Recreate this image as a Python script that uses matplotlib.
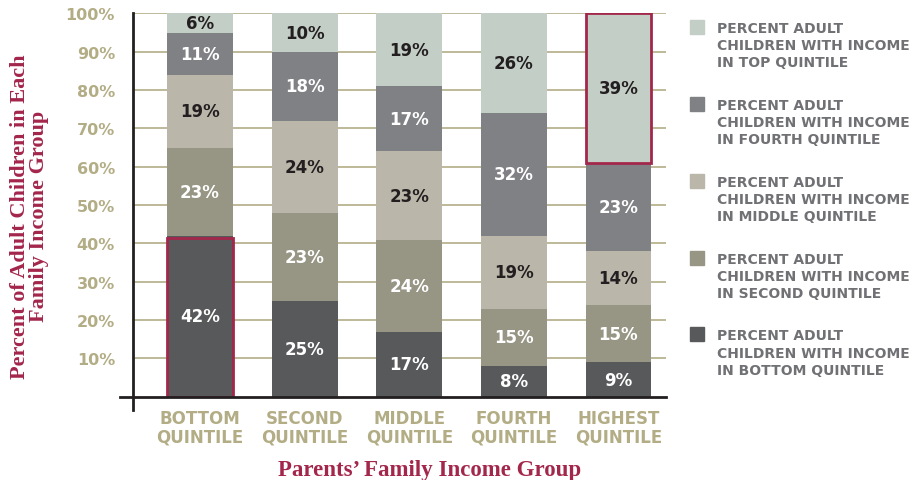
import numpy as np
import matplotlib
matplotlib.use('Agg')
import matplotlib.pyplot as plt

# parents' income group (x) and share of adult children in each quintile
groups = ['BOTTOM\nQUINTILE', 'SECOND\nQUINTILE', 'MIDDLE\nQUINTILE',
          'FOURTH\nQUINTILE', 'HIGHEST\nQUINTILE']
bottom_q = [42, 25, 17, 8, 9]
second_q = [23, 23, 24, 15, 15]
middle_q = [19, 24, 23, 19, 14]
fourth_q = [11, 18, 17, 32, 23]
top_q = [6, 10, 19, 26, 39]

series = [bottom_q, second_q, middle_q, fourth_q, top_q]
colors = ['#58595b', '#979583', '#bab6a9', '#808185', '#c3cec6']
text_cols = ['white', 'white', '#231f20', 'white', '#231f20']
legend_txt = ['PERCENT ADULT\nCHILDREN WITH INCOME\nIN BOTTOM QUINTILE',
              'PERCENT ADULT\nCHILDREN WITH INCOME\nIN SECOND QUINTILE',
              'PERCENT ADULT\nCHILDREN WITH INCOME\nIN MIDDLE QUINTILE',
              'PERCENT ADULT\nCHILDREN WITH INCOME\nIN FOURTH QUINTILE',
              'PERCENT ADULT\nCHILDREN WITH INCOME\nIN TOP QUINTILE']
yticks = [10, 20, 30, 40, 50, 60, 70, 80, 90, 100]

khaki = '#b3ad86'
crimson = '#a3264b'

fig = plt.figure(figsize=(9.18, 4.81), dpi=100)
ax = fig.add_axes([0.145, 0.173, 0.58, 0.797])

x = np.arange(len(groups))
w = 0.63

# gridlines
for t in yticks:
    ax.axhline(t, color=khaki, lw=1.2, zorder=0)

base = np.zeros(len(groups))
for i, vals in enumerate(series):
    vals = np.array(vals, dtype=float)
    bars = ax.bar(x, vals, w, bottom=base, color=colors[i], zorder=2)
    for j, b in enumerate(bars):
        yc = base[j] + vals[j] / 2
        if base[j] + vals[j] > 100:
            yc = base[j] + (100 - base[j]) / 2
        ax.text(x[j], yc, '%d%%' % vals[j], ha='center', va='center',
                fontsize=12, fontweight='bold', color=text_cols[i], zorder=4)
    base = base + vals

# highlighted segments
ax.bar(x[0], 41.5, w, bottom=0, fill=False, edgecolor=crimson, lw=2, zorder=3)
ax.bar(x[4], 39, w, bottom=61, fill=False, edgecolor=crimson, lw=2, zorder=3)

ax.set_xlim(-0.64, 4.45)
ax.set_ylim(0, 100)
for s in ax.spines.values():
    s.set_visible(False)
ax.plot([-0.025, 1], [0, 0], color='#231f20', lw=2, transform=ax.transAxes, clip_on=False, zorder=5)
ax.plot([0, 0], [-0.035, 1], color='#231f20', lw=2, transform=ax.transAxes, clip_on=False, zorder=5)

ax.set_yticks(yticks)
ax.set_yticklabels(['%d%%' % t for t in yticks], fontsize=11.5, fontweight='bold', color=khaki)
ax.tick_params(axis='y', length=0, pad=13)
ax.set_xticks(x)
ax.set_xticklabels(groups, fontsize=12, fontweight='bold', color=khaki, linespacing=1.0)
ax.tick_params(axis='x', length=0, pad=9)

fig.text(430 / 918, 0.022, 'Parents\u2019 Family Income Group', family='Liberation Serif',
         fontsize=16.5, fontweight='bold', color=crimson, ha='center', va='center')
fig.text(0.032, 0.55, 'Percent of Adult Children in Each\nFamily Income Group',
         family='Liberation Serif', fontsize=16, fontweight='bold', color=crimson,
         rotation=90, ha='center', va='center', linespacing=0.95)

# legend, top entry first
legend_y = [0.955, 0.795, 0.635, 0.475, 0.315]
for k in range(5):
    i = 4 - k
    fig.patches.append(plt.Rectangle((690 / 918, legend_y[k] - 0.027), 14 / 918, 14 / 481,
                                     transform=fig.transFigure, color=colors[i]))
    fig.text(717 / 918, legend_y[k], legend_txt[i], fontsize=10, fontweight='bold',
             color='#707174', va='top', ha='left', linespacing=1.3)

fig.savefig('out.png', dpi=100)
